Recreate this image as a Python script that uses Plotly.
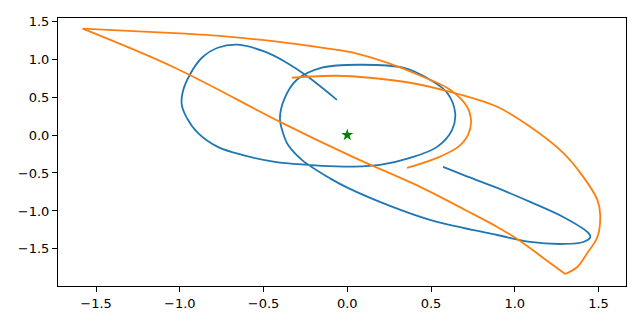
import plotly.graph_objects as go

# Blue orbit (data coordinates)
blue_x = [-0.062, -0.235, -0.372, -0.492, -0.653, -0.773, -0.868, -0.940, -0.982, -0.988,
          -0.958, -0.892, -0.773, -0.629, -0.432, -0.235, -0.068, 0.034, 0.195, 0.375,
          0.536, 0.626, 0.644, 0.596, 0.494, 0.333, 0.076, -0.151, -0.301, -0.378,
          -0.402, -0.384, -0.354, -0.271, -0.103, 0.016, 0.255, 0.494, 0.692, 0.895,
          1.092, 1.289, 1.409, 1.451, 1.433, 1.289, 1.092, 0.895, 0.692, 0.572]
blue_y = [0.464, 0.768, 0.966, 1.098, 1.190, 1.150, 1.018, 0.794, 0.570, 0.398,
          0.227, 0.029, -0.156, -0.261, -0.354, -0.393, -0.413, -0.416, -0.393, -0.301,
          -0.156, 0.069, 0.293, 0.557, 0.728, 0.887, 0.926, 0.887, 0.728, 0.464,
          0.214, 0.029, -0.129, -0.327, -0.571, -0.710, -0.934, -1.119, -1.224, -1.317,
          -1.409, -1.435, -1.409, -1.343, -1.277, -1.079, -0.881, -0.697, -0.525, -0.420]

# Orange orbit, split at its two sharp turning points
orange_a_x = [0.357, 0.536, 0.662, 0.721, 0.739, 0.715, 0.614, 0.452, 0.237, 0.046,
              -0.133, -0.432, -0.779, -0.970, -1.580]
orange_a_y = [-0.433, -0.301, -0.156, 0.003, 0.174, 0.372, 0.596, 0.768, 0.953, 1.080,
              1.146, 1.234, 1.309, 1.335, 1.401]
orange_b_x = [-1.580, -1.030, -0.390, 0.046, 0.435, 0.704, 0.895, 1.032, 1.170, 1.301]
orange_b_y = [1.401, 0.887, 0.161, -0.301, -0.683, -0.987, -1.211, -1.396, -1.620, -1.831]
orange_c_x = [1.301, 1.373, 1.433, 1.493, 1.510, 1.493, 1.409, 1.289, 1.092, 0.895,
              0.656, 0.375, 0.136, -0.062, -0.331]
orange_c_y = [-1.831, -1.739, -1.554, -1.343, -1.053, -0.855, -0.551, -0.235, 0.108, 0.372,
              0.544, 0.689, 0.755, 0.781, 0.755]

star_x = [0.0]
star_y = [0.0]

x_ticks = [-1.5, -1.0, -0.5, 0.0, 0.5, 1.0, 1.5]
x_labels = ["\u22121.5", "\u22121.0", "\u22120.5", "0.0", "0.5", "1.0", "1.5"]
y_ticks = [-1.5, -1.0, -0.5, 0.0, 0.5, 1.0, 1.5]
y_labels = ["\u22121.5", "\u22121.0", "\u22120.5", "0.0", "0.5", "1.0", "1.5"]

BLUE = "#1f77b4"
ORANGE = "#ff7f0e"

fig = go.Figure()
fig.add_trace(go.Scatter(x=blue_x, y=blue_y, mode="lines",
                         line=dict(color=BLUE, width=1.8, shape="spline", smoothing=1.0)))
for xs, ys in [(orange_a_x, orange_a_y), (orange_b_x, orange_b_y), (orange_c_x, orange_c_y)]:
    fig.add_trace(go.Scatter(x=xs, y=ys, mode="lines",
                             line=dict(color=ORANGE, width=1.8, shape="spline", smoothing=1.0)))
fig.add_trace(go.Scatter(x=star_x, y=star_y, mode="markers",
                         marker=dict(symbol="star", size=9, color="green")))

axis_common = dict(showgrid=False, zeroline=False, showline=True, linecolor="black",
                   linewidth=1, mirror=True, ticks="outside", ticklen=5, tickwidth=1,
                   tickcolor="black", automargin=False,
                   tickfont=dict(family="DejaVu Sans", size=13, color="black"))

# page body has an 8px offset, so the figure is sized/margined to compensate
fig.update_layout(
    width=624, height=309,
    margin=dict(l=50, r=6, t=10, b=31),
    paper_bgcolor="white", plot_bgcolor="white",
    showlegend=False,
    xaxis=dict(range=[-1.727, 1.664], tickvals=x_ticks, ticktext=x_labels, **axis_common),
    yaxis=dict(range=[-1.989, 1.542], tickvals=y_ticks, ticktext=y_labels, **axis_common),
)

fig.write_html("out.html")
